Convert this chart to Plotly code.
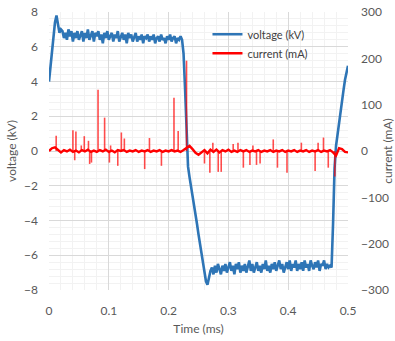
import plotly.graph_objects as go

# ---------------- data ----------------
# voltage sampled every 0.0025 ms from 0 to 0.5 ms (kV)
volt_step_ms = 0.0025
voltage_kv = [
    # 0 .. 0.02 rise and overshoot
    4.0, 4.9, 5.7, 6.6, 7.4, 7.8, 7.2, 6.8, 7.0,
    # positive plateau 0.0225 .. 0.220
    6.9, 6.5, 6.8, 6.4, 7.0, 6.6, 6.9, 6.3, 6.8, 6.5,
    6.9, 6.4, 6.7, 6.9, 6.3, 6.8, 6.5, 7.0, 6.4, 6.7,
    6.9, 6.3, 6.8, 6.6, 6.9, 6.4, 6.7, 6.2, 6.8, 6.5,
    6.9, 6.4, 6.6, 6.8, 6.3, 6.7, 6.5, 6.9, 6.3, 6.6,
    6.8, 6.4, 6.7, 6.2, 6.8, 6.5, 6.7, 6.3, 6.6, 6.8,
    6.3, 6.6, 6.4, 6.7, 6.2, 6.6, 6.5, 6.7, 6.3, 6.6,
    6.4, 6.7, 6.2, 6.5, 6.6, 6.3, 6.7, 6.4, 6.5, 6.2,
    6.6, 6.4, 6.7, 6.3, 6.5, 6.6, 6.2, 6.5, 6.4, 6.6,
    # fall 0.2225 .. 0.270
    6.4, 5.6, 3.6, 1.0, -0.9, -1.5, -2.0, -2.6, -3.1, -3.7,
    -4.2, -4.8, -5.3, -5.9, -6.4, -7.0, -7.5, -7.7, -7.2, -6.9,
    # negative plateau 0.2725 .. 0.470
    -6.7, -7.1, -6.6, -7.0, -6.5, -6.9, -7.1, -6.6, -6.9, -6.5,
    -7.0, -6.7, -6.4, -6.9, -6.6, -7.1, -6.5, -6.8, -6.4, -7.0,
    -6.6, -6.9, -6.5, -7.0, -6.6, -6.3, -6.9, -6.5, -7.0, -6.7,
    -6.4, -6.9, -6.6, -7.0, -6.5, -6.8, -6.3, -6.9, -6.6, -7.0,
    -6.5, -6.8, -6.4, -6.9, -6.6, -6.3, -6.8, -6.5, -7.0, -6.6,
    -6.4, -6.8, -6.3, -6.9, -6.5, -6.7, -6.3, -6.9, -6.5, -6.8,
    -6.4, -6.9, -6.3, -6.7, -6.5, -6.9, -6.3, -6.6, -6.8, -6.4,
    -6.7, -6.3, -6.9, -6.5, -6.6, -6.3, -6.8, -6.5, -6.7, -6.6,
    # rise 0.4725 .. 0.500
    -6.7, -4.2, -1.0, 0.3, 1.0, 1.6, 2.3, 2.9, 3.5, 4.1, 4.6, 4.9,
]
volt_time_ms = [round(i * volt_step_ms, 4) for i in range(len(voltage_kv))]

# current baseline sampled every 0.005 ms (mA)
curr_step_ms = 0.005
current_base_ma = [
    0, 6, 8, 2, -3, 2, -1, 3, -2, 1,
    -3, 2, -1, 3, -2, 1, -2, 2, -1, 3,
    -2, 1, -3, 2, 0, 2, -2, 1, -1, 2,
    -2, 1, -1, 2, -2, 1, -1, 2, -2, 1,
    -1, 2, -1, 1, -2, 2, 6, 11, 4, -4,
    -8, -3, 2, -5, 3, -2, 3, -3, 2, -1,
    3, -2, 1, -2, 2, -1, 2, -2, 1, -1,
    2, -2, 1, -1, 2, -2, 1, -1, 2, -2,
    1, -1, 2, -2, 1, -1, 2, -2, 1, -1,
    2, -2, 1, -1, 2, -3, -10, 6, 4, -2,
    -3,
]
curr_time_ms = [round(i * curr_step_ms, 4) for i in range(len(current_base_ma))]

# current spikes: time (ms) and peak (mA)
spike_time_ms = [0.012, 0.040, 0.043, 0.045, 0.054, 0.059, 0.066, 0.068, 0.071,
                 0.082, 0.093, 0.101, 0.103, 0.115, 0.121, 0.126, 0.160, 0.168,
                 0.188, 0.209, 0.216, 0.230, 0.260, 0.269, 0.274, 0.283, 0.288,
                 0.308, 0.316, 0.325, 0.336, 0.341, 0.347, 0.353, 0.375, 0.382,
                 0.398, 0.422, 0.445, 0.450, 0.459, 0.467, 0.478]
spike_peak_ma = [33, 45, -20, 42, 12, 32, 22, -28, -25,
                 132, 72, -25, 12, -32, 40, 27, -39, 28,
                 -32, 115, 43, 195, -27, -47, 18, -45, -45,
                 15, 18, -36, -30, 12, -30, -27, 25, -36,
                 -47, 18, -43, 18, 29, -36, -55]

x_ticks = [0, 0.1, 0.2, 0.3, 0.4, 0.5]
x_tick_labels = ["0", "0.1", "0.2", "0.3", "0.4", "0.5"]
y_ticks_kv = [-8, -6, -4, -2, 0, 2, 4, 6, 8]
y_ticks_ma = [-300, -200, -100, 0, 100, 200, 300]

# ---------------- figure ----------------
BLUE = "#2E75B6"
RED = "#FF0000"
FONT = "Lato, Carlito, 'Liberation Sans', sans-serif"
GRAY = "#595959"

spike_x, spike_y = [], []
for t, v in zip(spike_time_ms, spike_peak_ma):
    spike_x += [t, t, None]
    spike_y += [0, v, None]

fig = go.Figure()
fig.add_trace(go.Scatter(x=volt_time_ms, y=voltage_kv, mode="lines",
                         name="voltage (kV)", line=dict(color=BLUE, width=2.6)))
fig.add_trace(go.Scatter(x=spike_x, y=spike_y, mode="lines", yaxis="y2",
                         name="current (mA)", legendgroup="c", showlegend=False,
                         line=dict(color="rgba(255,0,0,0.7)", width=1.6)))
fig.add_trace(go.Scatter(x=curr_time_ms, y=current_base_ma, mode="lines", yaxis="y2",
                         name="current (mA)", legendgroup="c",
                         line=dict(color=RED, width=2.4)))

fig.update_layout(
    width=395, height=341,
    margin=dict(l=49, r=47, t=12, b=51, autoexpand=False),
    paper_bgcolor="white", plot_bgcolor="white",
    font=dict(family=FONT, size=12, color=GRAY),
    showlegend=True,
    legend=dict(x=0.53, y=0.972, xanchor="left", yanchor="top",
                bgcolor="rgba(255,255,255,0)", font=dict(size=11, color="#404040"),
                tracegroupgap=0),
    xaxis=dict(range=[0, 0.5], tickvals=x_ticks, ticktext=x_tick_labels,
               showgrid=True, gridcolor="#D9D9D9", gridwidth=1, automargin=False,
               minor=dict(dtick=0.02, showgrid=True, gridcolor="#F2F2F2", gridwidth=1),
               zeroline=False, showline=False, ticks="", ticklabelstandoff=12,
               title=dict(text="Time (ms)", standoff=7, font=dict(size=12, color=GRAY))),
    yaxis=dict(range=[-8, 8], tickvals=y_ticks_kv, automargin=False,
               showgrid=True, gridcolor="#D9D9D9", gridwidth=1,
               minor=dict(dtick=0.4, showgrid=True, gridcolor="#F2F2F2", gridwidth=1),
               zeroline=False, showline=False, ticks="", ticklabelstandoff=10,
               title=dict(text="voltage (kV)", standoff=4, font=dict(size=12, color=GRAY))),
    yaxis2=dict(range=[-300, 300], tickvals=y_ticks_ma, overlaying="y", side="right",
                showgrid=False, zeroline=False, showline=False, ticks="", automargin=False,
                ticklabelstandoff=12,
                title=dict(text="current (mA)", standoff=0, font=dict(size=12, color=GRAY))),
)

fig.write_html("out.html", config={"displayModeBar": False},
               post_script="document.body.style.margin='0';")
